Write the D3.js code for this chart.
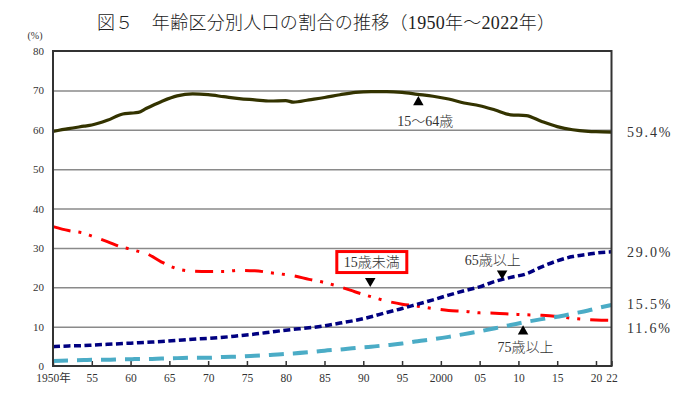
<!DOCTYPE html>
<html>
<head>
<meta charset="utf-8">
<script src="https://cdn.jsdelivr.net/npm/d3@7"></script>
<style>
  body { margin: 0; background: #fff; }
  text { font-family: "Liberation Serif", "Noto Sans CJK JP", serif; fill: #333; }
</style>
</head>
<body>
<div id="chart"></div>
<script>
// data (percent of total population)
const years = [1950, 1952, 1954, 1955, 1957, 1959, 1960, 1961, 1962, 1964,
  1966, 1968, 1970, 1972, 1974, 1976, 1978, 1980, 1981, 1983,
  1985, 1987, 1989, 1991, 1993, 1995, 1997, 1999, 2001, 2003,
  2005, 2007, 2009, 2011, 2013, 2015, 2017, 2019, 2020, 2022];

const age15to64 = [59.6, 60.3, 60.9, 61.2, 62.4, 64.0, 64.2, 64.4, 65.4, 67.2,
  68.6, 69.1, 68.9, 68.4, 67.9, 67.6, 67.3, 67.4, 67.0, 67.6,
  68.2, 68.9, 69.5, 69.7, 69.7, 69.5, 69.0, 68.5, 67.8, 66.8,
  66.1, 65.0, 63.8, 63.6, 62.1, 60.8, 60.0, 59.6, 59.5, 59.4];

const under15 = [35.4, 34.4, 33.7, 33.0, 31.6, 30.1, 29.7, 29.1, 28.6, 26.4,
  24.7, 24.1, 24.0, 24.0, 24.3, 24.2, 23.7, 23.2, 22.9, 22.0,
  21.2, 20.1, 18.8, 17.6, 16.5, 15.7, 15.2, 14.6, 14.1, 13.9,
  13.5, 13.4, 13.2, 13.0, 12.9, 12.6, 12.1, 11.8, 11.7, 11.6];

const over65 = [4.9, 5.1, 5.2, 5.3, 5.5, 5.7, 5.8, 5.9, 6.0, 6.2,
  6.5, 6.8, 7.0, 7.3, 7.7, 8.1, 8.6, 9.1, 9.3, 9.7,
  10.2, 10.9, 11.6, 12.5, 13.6, 14.6, 15.7, 16.8, 18.0, 19.1,
  20.1, 21.5, 22.5, 23.4, 25.2, 26.7, 27.8, 28.4, 28.7, 29.0];

const over75 = [1.3, 1.4, 1.5, 1.6, 1.6, 1.7, 1.7, 1.8, 1.8, 1.9,
  2.0, 2.1, 2.1, 2.3, 2.4, 2.6, 2.8, 3.1, 3.2, 3.5,
  3.9, 4.2, 4.6, 4.9, 5.3, 5.7, 6.3, 6.8, 7.4, 8.1,
  8.8, 9.6, 10.4, 11.2, 11.9, 12.5, 13.3, 14.1, 14.6, 15.5];

const xTicks = [1950, 1955, 1960, 1965, 1970, 1975, 1980, 1985, 1990, 1995,
  2000, 2005, 2010, 2015, 2020, 2022];
const xTickLabels = ["1950年", "55", "60", "65", "70", "75", "80", "85", "90", "95",
  "2000", "05", "10", "15", "20", "22"];
const yTicks = [0, 10, 20, 30, 40, 50, 60, 70, 80];

const endLabels = ["59.4%", "29.0%", "15.5%", "11.6%"];
const endLabelY = [59.4, 28.7, 15.5, 9.6];

// annotation text + marker (year / value positions)
const notes = [
  { text: "15～64歳", tx: 1998.0, ty: 62.0, mx: 1997.1, my: 67.0, up: true, box: false },
  { text: "15歳未満", tx: 1991.1, ty: 26.4, mx: 1990.9, my: 21.6, up: false, box: true },
  { text: "65歳以上", tx: 2006.7, ty: 26.9, mx: 2007.9, my: 23.5, up: false, box: false },
  { text: "75歳以上", tx: 2010.9, ty: 4.6, mx: 2010.6, my: 8.8, up: true, box: false }
];

const W = 700, H = 394;

const svg = d3.select("#chart")
  .append("svg")
  .attr("width", W)
  .attr("height", H);

svg.append("rect").attr("width", W).attr("height", H).attr("fill", "#fff");

const x = d3.scaleLinear().domain([1950, 2022]).range([53, 611.5]);
const y = d3.scaleLinear().domain([0, 80]).range([366, 51]);

// title
svg.append("text")
  .attr("x", 97)
  .attr("y", 29)
  .attr("textLength", 458)
  .attr("lengthAdjust", "spacing")
  .style("font-size", "18px")
  .style("font-weight", 300)
  .style("fill", "#222")
  .text("図５　年齢区分別人口の割合の推移（1950年～2022年）");

svg.append("text")
  .attr("x", 35)
  .attr("y", 39)
  .attr("text-anchor", "middle")
  .style("font-size", "10px")
  .text("(%)");

// gridlines + y labels
const yAxis = svg.append("g")
  .attr("transform", `translate(${x(1950)},0)`)
  .call(d3.axisLeft(y).tickValues(yTicks).tickSize(-(x(2022) - x(1950))).tickPadding(9));
yAxis.select(".domain").remove();
yAxis.selectAll(".tick line")
  .attr("stroke-width", 1.5)
  .attr("stroke", d => (d === 0 || d === 80) ? "none" : "#8a8a8a");
yAxis.selectAll(".tick text")
  .style("font-size", "11px")
  .style("font-family", "Liberation Serif, serif")
  .attr("fill", "#333");

// x axis (ticks pointing inward)
const xAxis = svg.append("g")
  .attr("transform", `translate(0,${y(0)})`)
  .call(d3.axisBottom(x).tickValues(xTicks).tickSize(-5).tickPadding(8)
    .tickFormat((d, i) => xTickLabels[i]));
xAxis.select(".domain").remove();
xAxis.selectAll(".tick line").attr("stroke", "#333").attr("stroke-width", 1.5);
xAxis.selectAll(".tick text")
  .style("font-size", "11.5px")
  .attr("fill", "#333");

// lines
const series = [
  { values: age15to64, color: "#333300", width: 3.2, dash: null },
  { values: under15, color: "#ff0000", width: 3, dash: "18,8,3,8,3,10" },
  { values: over65, color: "#000080", width: 3.5, dash: "7,3.5" },
  { values: over75, color: "#4bacc6", width: 4, dash: "15,9" }
];

const line = d3.line()
  .x(d => x(d[0]))
  .y(d => y(d[1]))
  .curve(d3.curveMonotoneX);

svg.selectAll(".series")
  .data(series)
  .join("path")
  .attr("class", "series")
  .attr("fill", "none")
  .attr("stroke", d => d.color)
  .attr("stroke-width", d => d.width)
  .attr("stroke-dasharray", d => d.dash)
  .attr("d", d => line(years.map((yr, i) => [yr, d.values[i]])));

// frame
svg.append("rect")
  .attr("x", x(1950))
  .attr("y", y(80))
  .attr("width", x(2022) - x(1950))
  .attr("height", y(0) - y(80))
  .attr("fill", "none")
  .attr("stroke", "#333")
  .attr("stroke-width", 2);

// right side end labels
svg.selectAll(".endlab")
  .data(endLabels)
  .join("text")
  .attr("class", "endlab")
  .attr("x", 627)
  .attr("y", (d, i) => y(endLabelY[i]))
  .attr("dominant-baseline", "central")
  .style("font-size", "14px")
  .style("letter-spacing", "1.8px")
  .text(d => d);

// annotations
const tri = d3.symbol().type(d3.symbolTriangle).size(48);
notes.forEach(n => {
  const t = svg.append("text")
    .attr("x", x(n.tx))
    .attr("y", y(n.ty))
    .attr("text-anchor", "middle")
    .attr("dominant-baseline", "central")
    .style("font-size", "14px")
    .style("font-weight", 300)
    .text(n.text);
  if (n.box) {
    const bb = t.node().getBBox();
    svg.insert("rect", () => t.node())
      .attr("x", bb.x - 7)
      .attr("y", bb.y - 3)
      .attr("width", bb.width + 14)
      .attr("height", bb.height + 6)
      .attr("fill", "#fff")
      .attr("stroke", "#ff0000")
      .attr("stroke-width", 3);
  }
  svg.append("path")
    .attr("d", tri)
    .attr("transform", `translate(${x(n.mx)},${y(n.my)}) rotate(${n.up ? 0 : 180})`)
    .attr("fill", "#000");
});
</script>
</body>
</html>
